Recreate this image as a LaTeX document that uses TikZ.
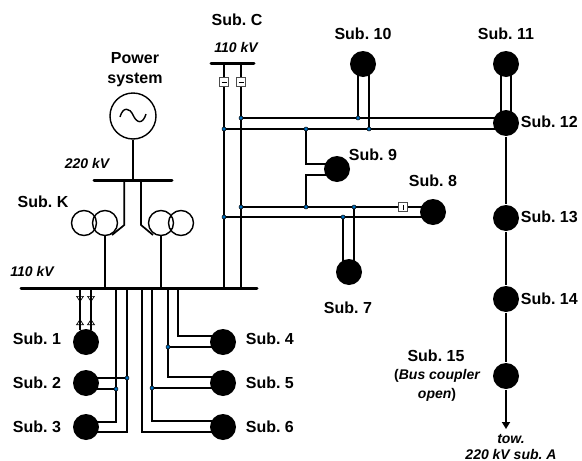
\documentclass[tikz,border=0pt]{standalone}
\usepackage{fontspec}
\setmainfont{Liberation Sans}
\usetikzlibrary{arrows.meta}
\definecolor{jblue}{RGB}{0,112,192}
\begin{document}
\begin{tikzpicture}[x=1pt,y=-1pt,line width=1.7pt,
		sub/.style={circle,fill=black,inner sep=0pt,minimum size=26pt},
		winding/.style={circle,draw,line width=1.4pt,inner sep=0pt,minimum size=25pt},
		gen/.style={circle,draw,line width=1.4pt,inner sep=0pt,minimum size=46pt},
		breaker/.style={rectangle,draw=black!70,line width=0.9pt,fill=white,inner sep=0pt,minimum size=9pt},
		bus/.style={line width=3pt,line cap=round},
		lab/.style={inner sep=0pt,font=\fontsize{16}{18}\selectfont\bfseries\frenchspacing},
		ital/.style={inner sep=0pt,font=\fontsize{14}{15}\selectfont\bfseries\itshape\frenchspacing},
		feeder/.style={line width=0.7pt,-{Triangle[open,length=6pt,width=8pt]}}]
	\useasboundingbox (0,0) rectangle (582,461);
	% buses
	\coordinate (B1) at (94,180);
	\coordinate (B2) at (172,180);
	\coordinate (B3) at (21,288);
	\coordinate (B4) at (257,288);
	\coordinate (B5) at (211,63);
	\coordinate (B6) at (254,63);
	\draw[bus] (B1) to (B2);
	\draw[bus] (B3) to (B4);
	\draw[bus] (B5) to (B6);
	% substations
	\node[sub] (S1) at (86,342) {};
	\node[sub] (S2) at (86,383) {};
	\node[sub] (S3) at (86,427) {};
	\node[sub] (S4) at (223,342) {};
	\node[sub] (S5) at (223,383) {};
	\node[sub] (S6) at (223,427) {};
	\node[sub] (S7) at (349,272) {};
	\node[sub] (S8) at (433,212) {};
	\node[sub] (S9) at (337,169) {};
	\node[sub] (S10) at (363,64) {};
	\node[sub] (S11) at (506,64) {};
	\node[sub] (S12) at (506,123) {};
	\node[sub] (S13) at (506,218) {};
	\node[sub] (S14) at (506,299) {};
	\node[sub] (S15) at (506,376) {};
	% generator and transformers
	\node[gen] (G) at (133,116) {};
	\draw[line width=1.4pt] (120,117) .. controls (123,106) and (130,108) .. (133,115) .. controls (137,124) and (143,124) .. (146,114);
	\coordinate (G1) at (133,180);
	\draw (G) to (G1);
	\node[winding] (K1) at (84,223) {};
	\node[winding] (K2) at (105,223) {};
	\node[winding] (K3) at (161,223) {};
	\node[winding] (K4) at (181,223) {};
	\coordinate (K5) at (124.3,180);
	\coordinate (K6) at (124.3,225);
	\coordinate (K7) at (112,235);
	\coordinate (K8) at (141,180);
	\coordinate (K9) at (141,225);
	\coordinate (K10) at (153,235);
	\coordinate (K11) at (105,288);
	\coordinate (K12) at (161,288);
	\draw (K5) to (K6) to (K7);
	\draw (K8) to (K9) to (K10);
	\draw (K2) to (K11);
	\draw (K3) to (K12);
	% lines from Sub. C
	\coordinate (C1) at (224,63);
	\coordinate (C2) at (241,63);
	\coordinate (C3) at (224,288);
	\coordinate (C4) at (241,288);
	\coordinate (J1) at (224,129);
	\coordinate (J2) at (241,118);
	\coordinate (J3) at (241,207);
	\coordinate (J4) at (224,217);
	\draw (C1) to (C3);
	\draw (C2) to (C4);
	\coordinate (S12a) at (506,118);
	\coordinate (S12b) at (506,129);
	\draw (J2) to (S12a);
	\draw (J1) to (S12b);
	\coordinate (S8a) at (433,207);
	\coordinate (S8b) at (433,217);
	\draw (J3) to (S8a);
	\draw (J4) to (S8b);
	% Sub. 10 and Sub. 11
	\coordinate (S10a) at (358,64);
	\coordinate (S10b) at (369,64);
	\coordinate (J5) at (358,118);
	\coordinate (J6) at (369,129);
	\draw (S10a) to (J5);
	\draw (S10b) to (J6);
	\coordinate (S11a) at (501,64);
	\coordinate (S11b) at (511,64);
	\coordinate (S12c) at (501,123);
	\coordinate (S12d) at (511,123);
	\draw (S11a) to (S12c);
	\draw (S11b) to (S12d);
	% Sub. 9 and Sub. 7
	\coordinate (J7) at (306,129);
	\coordinate (J8) at (306,207);
	\coordinate (S9a) at (337,164);
	\coordinate (S9b) at (337,175);
	\draw (J7) |- (S9a);
	\draw (J8) |- (S9b);
	\coordinate (J9) at (343,217);
	\coordinate (J10) at (354,207);
	\coordinate (S7a) at (343,272);
	\coordinate (S7b) at (354,272);
	\draw (S7a) to (J9);
	\draw (S7b) to (J10);
	% right hand chain
	\coordinate (A1) at (506,429);
	\draw (S12) to (S13);
	\draw (S13) to (S14);
	\draw (S14) to (S15);
	\draw[-{Triangle[length=7pt,width=8pt]}] (S15) to (A1);
	% Sub. 1
	\coordinate (D1) at (80,288);
	\coordinate (D2) at (91,288);
	\coordinate (D3) at (80,302);
	\coordinate (D4) at (91,302);
	\coordinate (D5) at (80,330);
	\coordinate (D6) at (91,330);
	\coordinate (D7) at (80,319);
	\coordinate (D8) at (91,319);
	\draw[feeder] (D1) to (D3);
	\draw[feeder] (D2) to (D4);
	\draw[feeder] (D5) to (D7);
	\draw[feeder] (D6) to (D8);
	\draw[line width=1.4pt] (D1) to (D5);
	\draw[line width=1.4pt] (D2) to (D6);
	% Sub. 2 and Sub. 3
	\coordinate (T1) at (116,288);
	\coordinate (T2) at (127,288);
	\coordinate (J11) at (116,389);
	\coordinate (J12) at (127,378);
	\coordinate (S2a) at (86,378);
	\coordinate (S2b) at (86,389);
	\coordinate (S3a) at (86,422);
	\coordinate (S3b) at (86,432);
	\draw (T1) |- (S3a);
	\draw (T2) |- (S3b);
	\draw (J12) to (S2a);
	\draw (J11) to (S2b);
	% Sub. 4, Sub. 5 and Sub. 6
	\coordinate (T3) at (142,288);
	\coordinate (T4) at (152,288);
	\coordinate (T5) at (168,288);
	\coordinate (T6) at (178,288);
	\coordinate (J13) at (152,388);
	\coordinate (J14) at (168,347);
	\coordinate (S4a) at (223,336);
	\coordinate (S4b) at (223,347);
	\coordinate (S5a) at (223,377);
	\coordinate (S5b) at (223,388);
	\coordinate (S6a) at (223,421);
	\coordinate (S6b) at (223,432);
	\draw (T3) |- (S6b);
	\draw (T4) |- (S6a);
	\draw (T5) |- (S5a);
	\draw (T6) |- (S4a);
	\draw (J14) to (S4b);
	\draw (J13) to (S5b);
	% breakers
	\node[breaker] (Q1) at (224,82) {};
	\node[breaker] (Q2) at (241,82) {};
	\node[breaker] (Q3) at (403,207) {};
	\draw[line width=0.8pt] ([xshift=-2.5pt]Q1.center) to ([xshift=2.5pt]Q1.center);
	\draw[line width=0.8pt] ([xshift=-2.5pt]Q2.center) to ([xshift=2.5pt]Q2.center);
	\draw[line width=0.8pt] ([yshift=-2.5pt]Q3.center) to ([yshift=2.5pt]Q3.center);
	% junctions
	\foreach \j in {J1,J2,J3,J4,J5,J6,J7,J8,J9,J10,J11,J12,J13,J14}
		\draw[fill=jblue,line width=0.5pt] (\j) circle (2pt);
	% labels
	\node[lab] (L1) at (37,339) {Sub. 1};
	\node[lab] (L2) at (37,383) {Sub. 2};
	\node[lab] (L3) at (37,427) {Sub. 3};
	\node[lab,anchor=west] (L4) at (245,339) {Sub. 4};
	\node[lab,anchor=west] (L5) at (245,383) {Sub. 5};
	\node[lab,anchor=west] (L6) at (245,427) {Sub. 6};
	\node[lab] (L7) at (348,308) {Sub. 7};
	\node[lab] (L8) at (433,181) {Sub. 8};
	\node[lab] (L9) at (373,155) {Sub. 9};
	\node[lab] (L10) at (363,34) {Sub. 10};
	\node[lab] (L11) at (506,34) {Sub. 11};
	\node[lab,anchor=west] (L12) at (520,122) {Sub. 12};
	\node[lab,anchor=west] (L13) at (520,217) {Sub. 13};
	\node[lab,anchor=west] (L14) at (520,299) {Sub. 14};
	\node[lab] (L15) at (436,356) {Sub. 15};
	\node[lab] (LC) at (237,20) {Sub. C};
	\node[lab] (LK) at (43,202) {Sub. K};
	\node[lab] (LG1) at (135,58) {Power};
	\node[lab] (LG2) at (135,80) {system};
	\node[ital] (V1) at (236,47) {110 kV};
	\node[ital] (V2) at (87,163) {220 kV};
	\node[ital] (V3) at (32,271) {110 kV};
	\node[ital] (N1) at (437,376) {\upshape(\itshape Bus coupler};
	\node[ital] (N2) at (437,395) {open\upshape)};
	\node[ital] (N3) at (511,439) {tow.};
	\node[ital] (N4) at (511,454) {220 kV sub. A};
\end{tikzpicture}
\end{document}
